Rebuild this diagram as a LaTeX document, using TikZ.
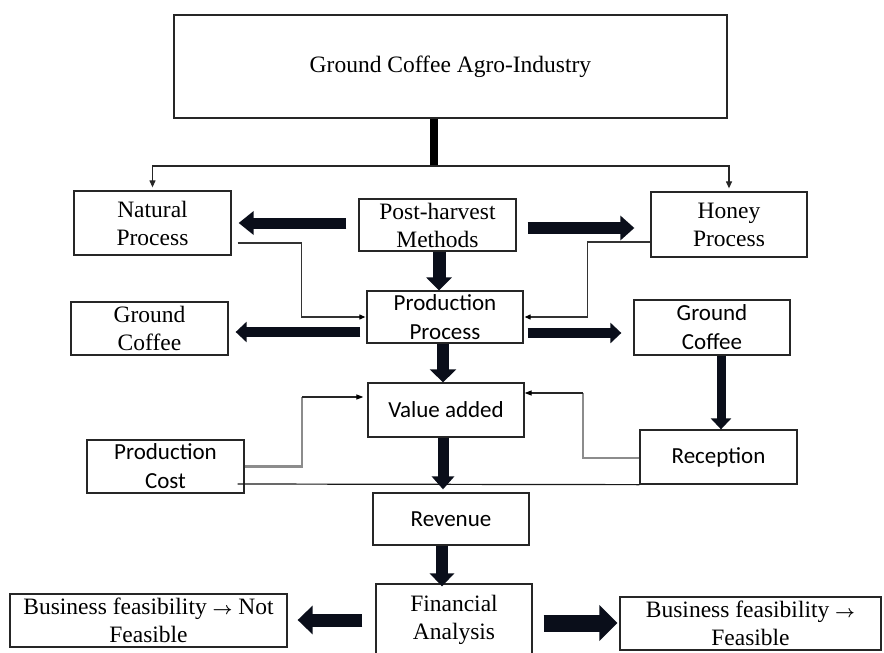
\documentclass[tikz,border=0pt]{standalone}
\usepackage{amsmath}
\usepackage{fontspec}
\setmainfont{Liberation Serif}
\newfontfamily\calfont{Carlito}
\newcommand{\rarr}{{\fontsize{17}{20}\selectfont$\boldsymbol{\rightarrow}$}}
\usetikzlibrary{arrows.meta,calc}
\definecolor{arrowcol}{HTML}{0A0E1A}
\tikzset{
  box/.style={draw=black!85, line width=1.3pt, inner sep=0pt, align=center},
  tms/.style={font=\fontsize{23.5}{28}\selectfont},
  cal/.style={font=\calfont\fontsize{23}{29}\selectfont},
  blk/.style n args={3}{draw=arrowcol, line width=#1, -{Triangle[width=#2,length=#3]}},
  thinarr/.style={line width=1.2pt, draw=black!85, -{Triangle[width=6pt,length=7pt]}, shorten >=3pt},
  gline/.style={line width=1.1pt, draw=black!80, -{Triangle[width=5pt,length=6pt,color=black]}, shorten >=1pt},
  grayseg/.style={line width=2.2pt, draw=black!45},
  blackseg/.style={line width=1.1pt, draw=black!85, -{Triangle[width=5pt,length=7pt,color=black]}},
  plainline/.style={line width=1.2pt, draw=black!90},
  barline/.style={line width=8pt, draw=black},
}
\begin{document}
\begin{tikzpicture}[x=1pt,y=-1pt]
\useasboundingbox (0,0) rectangle (884,653);
\fill[white] (0,0) rectangle (884,653);
% nodes
\node[box,tms,minimum width=553pt,minimum height=103pt] (top) at (450.5,66.5) {Ground Coffee Agro-Industry};
\node[box,tms,minimum width=157pt,minimum height=64pt] (nat) at (152.5,223) {Natural\\Process};
\node[box,tms,minimum width=157pt,minimum height=52pt] (post) at (437.5,225) {Post-harvest\\Methods};
\node[box,tms,minimum width=156pt,minimum height=65pt] (honey) at (729,224.5) {Honey\\Process};
\node[box,cal,minimum width=156pt,minimum height=52pt] (prod) at (445,317) {Production\\Process};
\node[box,tms,minimum width=157pt,minimum height=53pt] (gcl) at (149.5,328.5) {Ground\\Coffee};
\node[box,cal,minimum width=156pt,minimum height=55pt] (gcr) at (712,327.5) {Ground\\Coffee};
\node[box,cal,minimum width=156pt,minimum height=54pt] (val) at (446,410) {Value added};
\node[box,cal,minimum width=157pt,minimum height=53pt] (pc) at (165.5,466.5) {Production\\Cost};
\node[box,cal,minimum width=157pt,minimum height=54pt] (rec) at (718.5,457) {Reception};
\node[box,cal,minimum width=156pt,minimum height=52pt] (rev) at (451,519) {Revenue};
\node[box,tms,minimum width=156pt,minimum height=71pt] (fin) at (454,619.5) {Financial\\Analysis};
\node[box,tms,minimum width=277pt,minimum height=53pt] (notf) at (148.5,620.5) {Business feasibility \rarr{} Not\\Feasible};
\node[box,tms,minimum width=261pt,minimum height=53pt] (feas) at (750.5,623.5) {Business feasibility \rarr\\Feasible};
% thin connectors
\coordinate (j) at (434,166);
\draw[barline] (top.south -| j) -- (j);
\draw[thinarr] (j) -| (nat.north);
\draw[thinarr] (j) -| (honey.north);
\draw[gline] ($(nat.east)+(6,20)$) -| ($(prod.west)+(-65,0)$) -- (prod.west);
\draw[gline] ($(honey.west)+(0,17.5)$) -| ($(prod.east)+(64,0)$) -- (prod.east);
\coordinate (pcbend) at ($(val.west)+(-65,-13)$);
\draw[grayseg] (pc.east) -| (pcbend);
\draw[blackseg] (pcbend) -- ($(val.west)+(-4,-13)$);
\coordinate (recbend) at ($(val.east)+(58,-17)$);
\draw[grayseg] ($(rec.west)+(0,1)$) -| (recbend);
\draw[blackseg] (recbend) -- ($(val.east)+(0,-17)$);
\draw[plainline] ($(pc.east)+(-7,17.5)$) -- (rec.south west);
% block arrows
\draw[blk={11pt}{23pt}{15pt}] ($(post.west)+(-12,-2)$) -- ($(nat.east)+(7,0)$);
\draw[blk={12pt}{24pt}{14pt}] ($(post.east)+(11,3)$) -- ($(honey.west)+(-16,3.5)$);
\draw[blk={13pt}{25pt}{13pt}] ($(post.south)+(1.5,0)$) -- ($(prod.north)+(-6,0)$);
\draw[blk={10pt}{20pt}{11pt}] ($(prod.west)+(-6,15)$) -- ($(gcl.east)+(7,3.5)$);
\draw[blk={10pt}{20pt}{11pt}] ($(prod.east)+(4,16)$) -- ($(gcr.west)+(-12,5.5)$);
\draw[blk={12pt}{26pt}{13pt}] ($(prod.south)+(-2,0)$) -- ($(val.north)+(-3,0)$);
\draw[blk={9pt}{20pt}{11pt}] ($(gcr.south)+(9,0)$) -- ($(rec.north)+(2.5,0)$);
\draw[blk={11pt}{22pt}{13pt}] ($(val.south)+(-3,0)$) -- ($(rev.north)+(-8,-3)$);
\draw[blk={12pt}{24pt}{13pt}] ($(rev.south)+(-9,0)$) -- ($(fin.north)+(-12,3)$);
\draw[blk={13pt}{28pt}{15pt}] ($(fin.west)+(-13,0.5)$) -- ($(notf.east)+(10,-0.5)$);
\draw[blk={17pt}{35pt}{18pt}] ($(fin.east)+(11,3.5)$) -- ($(feas.west)+(-2,-0.5)$);
\end{tikzpicture}
\end{document}
